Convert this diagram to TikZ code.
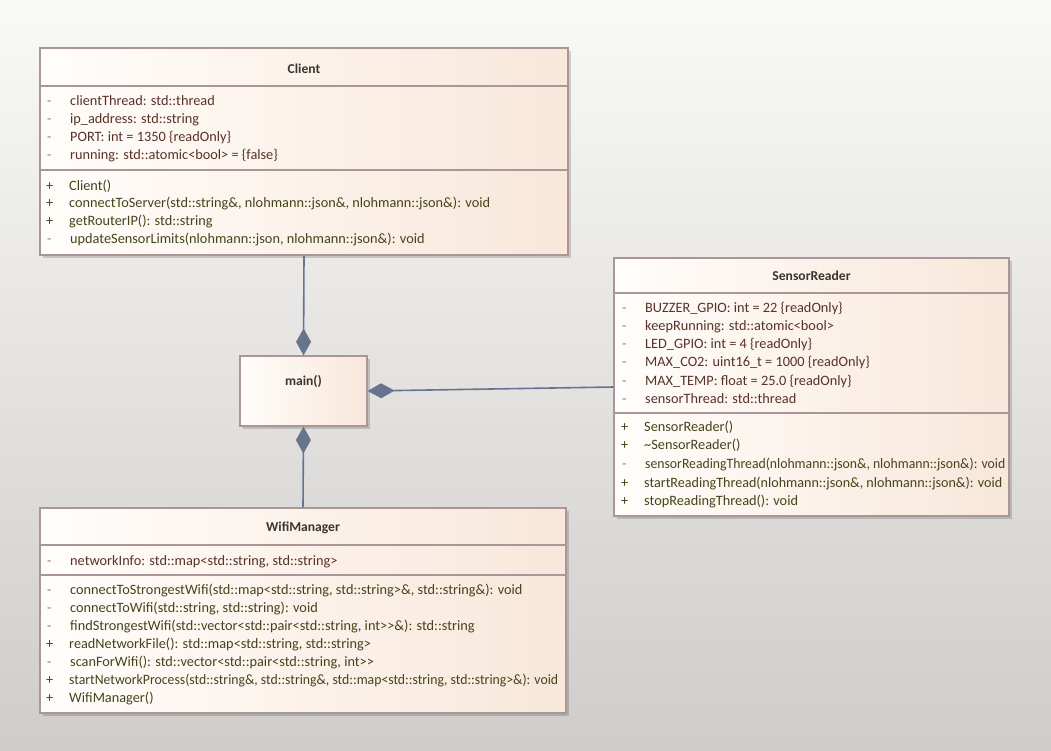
\documentclass[tikz,border=0pt]{standalone}
\usepackage{fontspec}
\setmainfont{Carlito}
\usetikzlibrary{arrows.meta,shadows}

\definecolor{bgtop}{RGB}{249,249,247}
\definecolor{bgbot}{RGB}{207,204,202}
\definecolor{boxline}{RGB}{170,150,150}
\definecolor{fillL}{RGB}{255,253,251}
\definecolor{fillR}{RGB}{248,231,218}
\definecolor{attrcol}{RGB}{88,50,40}
\definecolor{opcol}{RGB}{68,68,26}
\definecolor{dashcol}{RGB}{130,126,120}
\definecolor{titlecol}{RGB}{55,53,51}
\definecolor{linkcol}{RGB}{104,116,142}

\tikzset{
  classbox/.style={draw=boxline, line width=1.2pt, left color=fillL, right color=fillR,
    drop shadow={shadow xshift=3pt, shadow yshift=-3pt, fill=black, opacity=0.16},
    inner sep=0pt},
  sepline/.style={draw=boxline, line width=1.2pt},
  titletxt/.style={font=\fontsize{13.6}{15}\selectfont\bfseries, text=titlecol, inner sep=0pt},
  rowtxt/.style={font=\fontsize{14.3}{16}\selectfont, inner sep=0pt, anchor=west,
    text height=12pt, text depth=2pt},
  attrtxt/.style={rowtxt, text=attrcol},
  optxt/.style={rowtxt, text=opcol},
  privsym/.style={rowtxt, text=dashcol},
  pubsym/.style={rowtxt, text=opcol},
  squeezed/.style={xscale=#1},
  composition/.style={draw=linkcol, line width=1.6pt,
    -{Diamond[length=27pt, width=15pt, fill=linkcol]}},
}

% one member row: name, x of symbol, y, symbol style, symbol, text style, text
\newcommand{\member}[7]{%
  \node[#4] (#1s) at (#2,#3) {#5};
  \node[#6] (#1) at (#2+23,#3) {#7};%
}

\begin{document}
\begin{tikzpicture}[x=1pt,y=-1pt]
\useasboundingbox (0,0) rectangle (1051,750);
\fill[top color=bgtop, bottom color=bgbot] (0,0) rectangle (1051,750);

% ---------------- Client
\node[classbox, minimum width=528pt, minimum height=207pt] (client) at (304,151.5) {};
\node[titletxt] (clientT) at (304,69) {Client};
\draw[sepline] (40,86) -- (568,86);
\draw[sepline] (40,170) -- (568,170);
\member{ca1}{47}{100}{privsym}{-}{attrtxt}{clientThread: std::thread}
\member{ca2}{47}{118}{privsym}{-}{attrtxt}{ip\_address: std::string}
\member{ca3}{47}{136}{privsym}{-}{attrtxt}{PORT: int = 1350 \{readOnly\}}
\member{ca4}{47}{154}{privsym}{-}{attrtxt}{running: std::atomic<bool> = \{false\}}
\member{co1}{46}{185}{pubsym}{+}{optxt}{Client()}
\member{co2}{46}{202}{pubsym}{+}{optxt}{connectToServer(std::string\&, nlohmann::json\&, nlohmann::json\&): void}
\member{co3}{46}{220}{pubsym}{+}{optxt}{getRouterIP(): std::string}
\member{co4}{47}{238}{privsym}{-}{optxt}{updateSensorLimits(nlohmann::json, nlohmann::json\&): void}

% ---------------- main()
\node[classbox, minimum width=127pt, minimum height=70pt] (mainf) at (303.5,391) {};
\node[titletxt] (mainT) at (303.5,381) {main()};

% ---------------- SensorReader
\node[classbox, minimum width=395pt, minimum height=258pt] (sensor) at (811.5,387) {};
\node[titletxt] (sensorT) at (811.5,276) {SensorReader};
\draw[sepline] (614,293) -- (1009,293);
\draw[sepline] (614,413) -- (1009,413);
\member{sa1}{622}{307}{privsym}{-}{attrtxt}{BUZZER\_GPIO: int = 22 \{readOnly\}}
\member{sa2}{622}{325}{privsym}{-}{attrtxt}{keepRunning: std::atomic<bool>}
\member{sa3}{622}{343}{privsym}{-}{attrtxt}{LED\_GPIO: int = 4 \{readOnly\}}
\member{sa4}{622}{361}{privsym}{-}{attrtxt}{MAX\_CO2: uint16\_t = 1000 \{readOnly\}}
\member{sa5}{622}{380}{privsym}{-}{attrtxt}{MAX\_TEMP: float = 25.0 \{readOnly\}}
\member{sa6}{622}{398}{privsym}{-}{attrtxt}{sensorThread: std::thread}
\member{so1}{621}{426}{pubsym}{+}{optxt}{SensorReader()}
\member{so2}{621}{444}{pubsym}{+}{optxt}{\textasciitilde SensorReader()}
\member{so3}{622}{463}{privsym}{-}{optxt,squeezed=0.96}{sensorReadingThread(nlohmann::json\&, nlohmann::json\&): void}
\member{so4}{621}{482}{pubsym}{+}{optxt,squeezed=0.985}{startReadingThread(nlohmann::json\&, nlohmann::json\&): void}
\member{so5}{621}{500}{pubsym}{+}{optxt}{stopReadingThread(): void}

% ---------------- WifiManager
\node[classbox, minimum width=526pt, minimum height=205pt] (wifi) at (303,610.5) {};
\node[titletxt] (wifiT) at (303,528) {WifiManager};
\draw[sepline] (40,545) -- (566,545);
\draw[sepline] (40,575) -- (566,575);
\member{wa1}{47}{560}{privsym}{-}{attrtxt}{networkInfo: std::map<std::string, std::string>}
\member{wo1}{47}{589}{privsym}{-}{optxt}{connectToStrongestWifi(std::map<std::string, std::string>\&, std::string\&): void}
\member{wo2}{47}{607}{privsym}{-}{optxt}{connectToWifi(std::string, std::string): void}
\member{wo3}{47}{625}{privsym}{-}{optxt}{findStrongestWifi(std::vector<std::pair<std::string, int>{}>\&): std::string}
\member{wo4}{46}{643}{pubsym}{+}{optxt}{readNetworkFile(): std::map<std::string, std::string>}
\member{wo5}{47}{661}{privsym}{-}{optxt}{scanForWifi(): std::vector<std::pair<std::string, int>{}>}
\member{wo6}{46}{679}{pubsym}{+}{optxt,squeezed=0.96}{startNetworkProcess(std::string\&, std::string\&, std::map<std::string, std::string>\&): void}
\member{wo7}{46}{697}{pubsym}{+}{optxt}{WifiManager()}

% ---------------- compositions into main()
\draw[composition] (client.south) -- (mainf.north);
\draw[composition] (sensor.west) -- (mainf.east);
\draw[composition] (wifi.north) -- (mainf.south);
\end{tikzpicture}
\end{document}
